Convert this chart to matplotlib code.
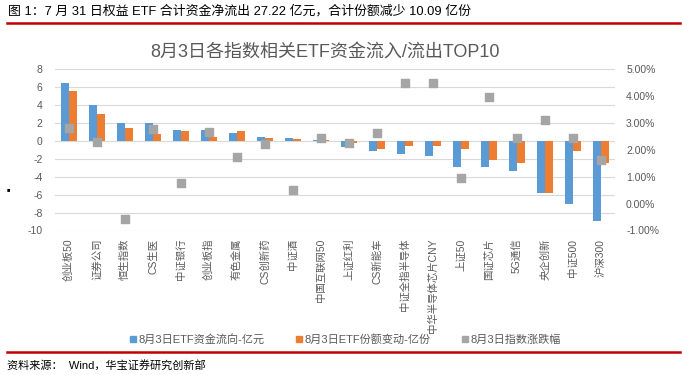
import matplotlib
matplotlib.use("Agg")
import matplotlib.pyplot as plt
from matplotlib.lines import Line2D
import numpy as np

plt.rcParams["font.family"] = ["Liberation Sans", "Noto Sans CJK SC", "DejaVu Sans"]
plt.rcParams["axes.unicode_minus"] = False

categories = [
    "创业板50", "证券公司", "恒生指数", "CS生医", "中证银行", "创业板指",
    "有色金属", "CS创新药", "中证酒", "中国互联网50", "上证红利", "CS新能车",
    "中证全指半导体", "中华半导体芯片CNY", "上证50", "国证芯片", "5G通信",
    "央企创新", "中证500", "沪深300",
]
fund_flow = [6.39, 3.98, 1.97, 1.97, 1.15, 1.15, 0.82, 0.37, 0.26, 0.11,
             -0.71, -1.15, -1.49, -1.71, -2.94, -2.94, -3.38, -5.84, -7.06, -8.96]
share_change = [5.50, 2.94, 1.38, 0.71, 1.04, 0.37, 1.04, 0.26, 0.15, 0.07,
                -0.26, -0.93, -0.59, -0.59, -0.93, -2.16, -2.49, -5.84, -1.15, -2.49]
index_change = [2.79, 2.28, -0.56, 2.76, 0.78, 2.65, 1.72, 2.20, 0.51, 2.43,
                2.24, 2.61, 4.47, 4.47, 0.96, 3.96, 2.43, 3.10, 2.43, 1.63]
left_ticks = list(range(-10, 9, 2))
right_ticks = [-1, 0, 1, 2, 3, 4, 5]

blue = "#5B9BD5"
orange = "#ED7D31"
gray = "#A5A5A5"
text_gray = "#595959"

fig = plt.figure(figsize=(6.82, 3.75), dpi=100)
ax = fig.add_axes([55 / 682, 1 - 230.5 / 375, 560 / 682, 161.5 / 375])
x = np.arange(len(categories))
w = 0.26
ax.bar(x - 0.14, fund_flow, width=w, color=blue, zorder=2)
ax.bar(x + 0.14, share_change, width=w, color=orange, zorder=2)
ax.set_xlim(-0.5, len(categories) - 0.5)
ax.set_ylim(-10, 8)
ax.set_yticks(left_ticks)
ax.grid(axis="y", color="#D9D9D9", linewidth=0.8)
ax.set_axisbelow(True)
ax.set_xticks(x, categories, rotation=90)
ax.tick_params(axis="x", length=0, pad=6, labelsize=7.5, labelcolor=text_gray)
ax.tick_params(axis="y", length=0, pad=9, labelsize=7.5, labelcolor=text_gray)
for s in ax.spines.values():
    s.set_visible(False)

ax2 = ax.twinx()
ax2.scatter(x, index_change, marker="s", s=28, color=gray, zorder=3)
ax2.set_ylim(-1, 5)
ax2.set_yticks(right_ticks, [f"{v:.2f}%" for v in right_ticks])
ax2.tick_params(axis="y", length=0, pad=8, labelsize=7.5, labelcolor=text_gray)
for s in ax2.spines.values():
    s.set_visible(False)

fig.text(0.4765, 1 - 52 / 375, "8月3日各指数相关ETF资金流入/流出TOP10",
         ha="center", va="center", fontsize=13, color=text_gray)

handles = [
    Line2D([], [], marker="s", linestyle="none", color=blue, markersize=5),
    Line2D([], [], marker="s", linestyle="none", color=orange, markersize=5),
    Line2D([], [], marker="s", linestyle="none", color=gray, markersize=5),
]
fig.legend(handles, ["8月3日ETF资金流向-亿元", "8月3日ETF份额变动-亿份", "8月3日指数涨跌幅"],
           loc="center", bbox_to_anchor=(0.506, 1 - 339 / 375), ncol=3, frameon=False,
           fontsize=8, labelcolor=text_gray, handlelength=0.6, handletextpad=0.2,
           columnspacing=2.8)

# caption, source and red rules
fig.text(8 / 682, 1 - 11 / 375, "图 1：7 月 31 日权益 ETF 合计资金净流出 27.22 亿元，合计份额减少 10.09 亿份",
         ha="left", va="center", fontsize=9.3, color="black")
fig.add_artist(Line2D([7 / 682, 680 / 682], [1 - 23 / 375] * 2, color="#C00000", lw=1.8))
fig.add_artist(Line2D([7 / 682, 680 / 682], [1 - 352 / 375] * 2, color="#C00000", lw=1.8))
fig.text(7 / 682, 1 - 365 / 375, "资料来源：  Wind，华宝证券研究创新部",
         ha="left", va="center", fontsize=8, color="black")
fig.text(7 / 682, 1 - 190 / 375, "■", ha="left", va="center", fontsize=4, color="black")

fig.savefig("out.png", dpi=100)
